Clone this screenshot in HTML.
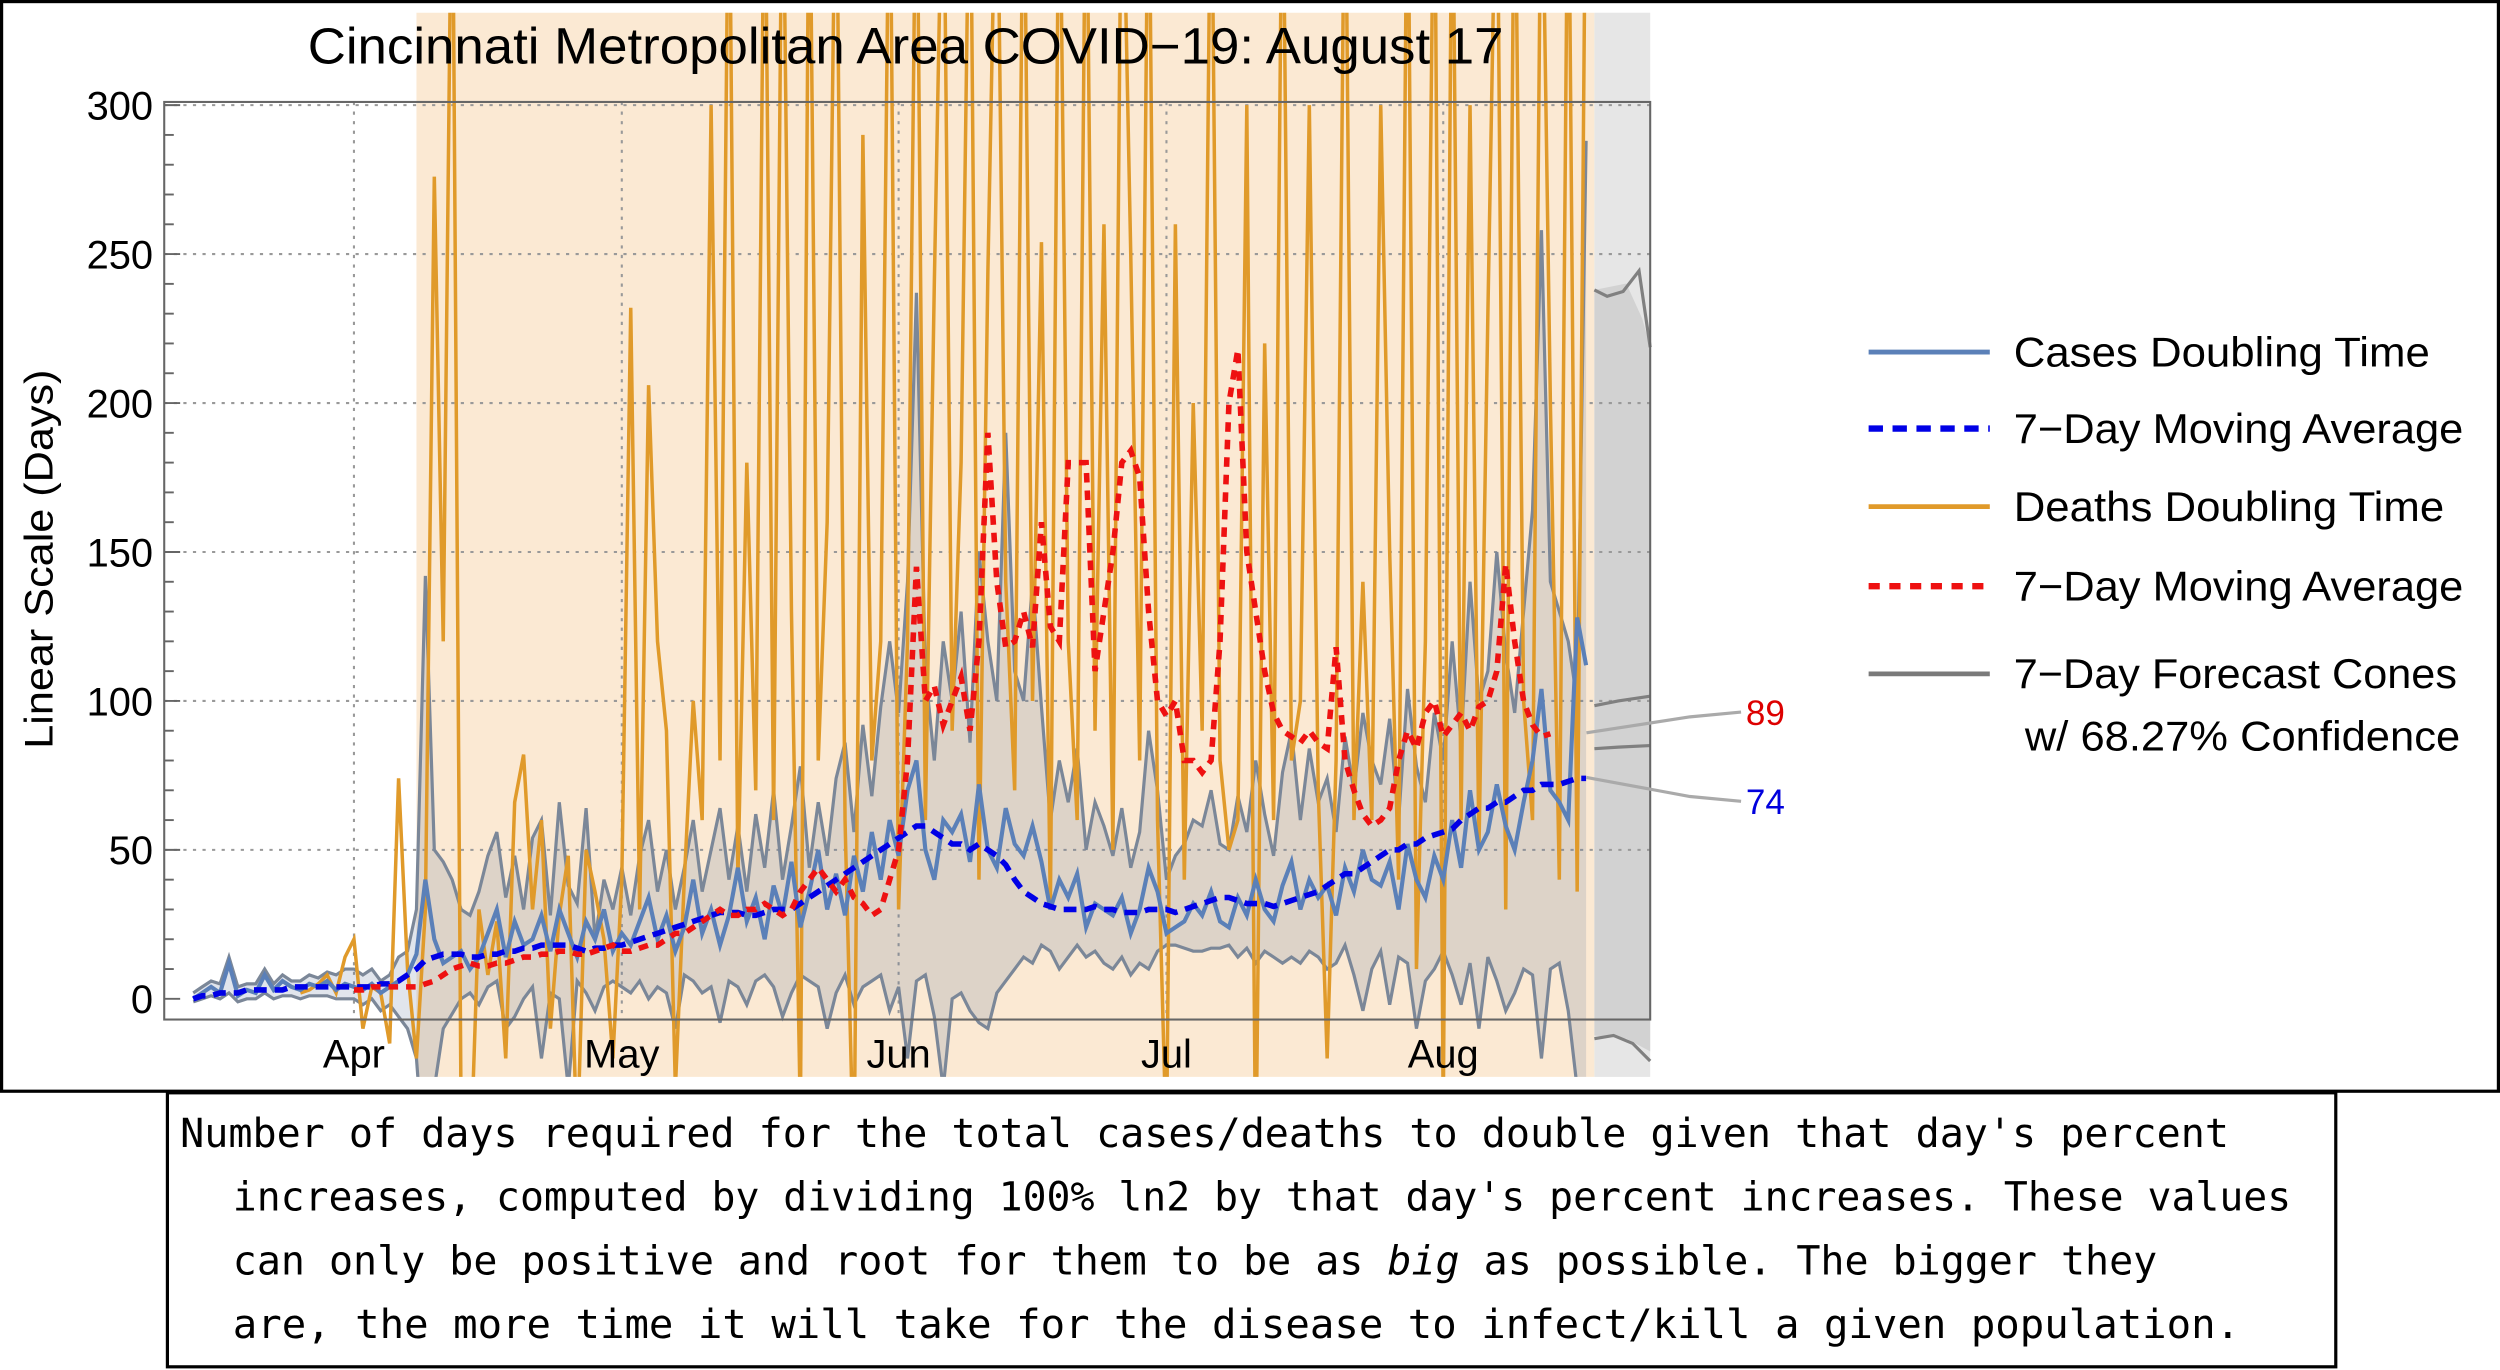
<!DOCTYPE html>
<html><head><meta charset="utf-8"><style>
html,body{margin:0;padding:0;background:#fff;}
svg{display:block;}
text{font-family:"Liberation Sans",sans-serif;}
.mono{font-family:"DejaVu Sans Mono","Liberation Mono",monospace;}
</style></head><body>
<svg id="chart" width="2500" height="1370" viewBox="0 0 1568 860" preserveAspectRatio="none" xmlns="http://www.w3.org/2000/svg">
<defs><clipPath id="plotclip"><rect x="103" y="8" width="897" height="668"/></clipPath></defs>
<rect x="1" y="1" width="1566" height="684" fill="#fff" stroke="#000" stroke-width="2"/>
<g id="bg"></g>
<rect x="1000" y="8" width="35" height="668" fill="#e6e6e6"/>
<polygon points="1000,182 1010,180 1020,178 1030,200 1035,218 1035,660 1020,652 1000,650" fill="#d2d2d2"/>
<g id="grid"></g>
<g id="series" clip-path="url(#plotclip)"></g>
<g fill="none" stroke="#808080" stroke-width="2">
<polyline points="1000,182 1008,186 1018,183 1028,170 1035,218"/>
<polyline points="1000,443 1015,440 1035,437"/>
<polyline points="1000,470 1015,469 1035,468"/>
<polyline points="1000,652 1012,650 1024,655 1035,666"/>
</g>
<g id="axes"></g>
<text x="193" y="40" font-size="32" textLength="750" lengthAdjust="spacingAndGlyphs">Cincinnati Metropolitan Area COVID−19: August 17</text>
<text transform="translate(33,351) rotate(-90)" font-size="25" text-anchor="middle" textLength="238" lengthAdjust="spacingAndGlyphs">Linear Scale (Days)</text>
<g fill="none" stroke="#aaa" stroke-width="2">
<polyline points="995,460 1060,450 1092,447"/>
<polyline points="995,488 1060,500 1092,503"/>
</g>
<text x="1095" y="455" font-size="22" fill="#d00">89</text>
<text x="1095" y="511" font-size="22" fill="#0000dd">74</text>
<g font-size="26">
<g><line x1="1172" y1="221" x2="1248" y2="221" stroke="#5b80b8" stroke-width="3"/><text x="1263" y="230" textLength="261" lengthAdjust="spacingAndGlyphs">Cases Doubling Time</text></g>
<g><line x1="1172" y1="269" x2="1248" y2="269" stroke="#0000e6" stroke-width="4" stroke-dasharray="9,6"/><text x="1263" y="278" textLength="282" lengthAdjust="spacingAndGlyphs">7−Day Moving Average</text></g>
<g><line x1="1172" y1="318" x2="1248" y2="318" stroke="#e09a2a" stroke-width="3"/><text x="1263" y="327" textLength="270" lengthAdjust="spacingAndGlyphs">Deaths Doubling Time</text></g>
<g><line x1="1172" y1="368" x2="1248" y2="368" stroke="#ee1111" stroke-width="4" stroke-dasharray="7,6"/><text x="1263" y="377" textLength="282" lengthAdjust="spacingAndGlyphs">7−Day Moving Average</text></g>
<g><line x1="1172" y1="423" x2="1248" y2="423" stroke="#7a7a7a" stroke-width="3"/><text x="1263" y="432" textLength="278" lengthAdjust="spacingAndGlyphs">7−Day Forecast Cones</text><text x="1270" y="471" textLength="273" lengthAdjust="spacingAndGlyphs">w/ 68.27% Confidence</text></g>
</g>
<rect x="105" y="686" width="1360" height="172" fill="#fff" stroke="#000" stroke-width="2"/>
<g class="mono" font-size="25">
<text class="mono" x="113" y="720" textLength="1285" lengthAdjust="spacingAndGlyphs">Number of days required for the total cases/deaths to double given that day's percent</text>
<text class="mono" x="146" y="760" textLength="1291" lengthAdjust="spacingAndGlyphs">increases, computed by dividing 100% ln2 by that day's percent increases. These values</text>
<text class="mono" x="146" y="800" textLength="1207" lengthAdjust="spacingAndGlyphs">can only be positive and root for them to be as <tspan font-style="italic">big</tspan> as possible. The bigger they</text>
<text class="mono" x="146" y="840" textLength="1259" lengthAdjust="spacingAndGlyphs">are, the more time it will take for the disease to infect/kill a given population.</text>
</g>
</svg>
<script>
// day index 0 = Mar 14; Apr 1 = 18 ... Aug 17 = 156
const cases=[0,2,4,2,12,1,3,2,8,3,6,4,3,5,4,6,3,5,
4,3,5,2,4,6,8,15,40,20,12,14,16,10,14,22,30,14,26,18,20,28,16,30,22,14,26,20,30,16,
22,18,26,34,20,28,16,24,40,22,30,18,28,44,26,34,20,38,28,46,24,36,50,30,42,28,48,36,56,40,60,
48,70,80,50,40,60,56,62,46,72,50,44,64,52,48,58,46,30,40,34,42,24,32,30,28,34,22,30,44,36,
22,24,26,32,28,36,26,24,34,28,40,30,26,38,46,30,40,34,38,28,44,36,50,40,38,46,30,52,40,34,48,
40,60,44,70,50,56,72,58,50,66,80,104,70,66,60,128,112];
const casesMA=[0,1,1,2,2,2,3,3,3,3,3,4,4,4,4,4,4,4,
4,4,4,5,5,6,8,10,13,14,15,15,15,14,14,15,15,16,16,17,17,18,18,18,18,17,16,17,17,18,
18,19,20,21,22,23,24,25,26,27,28,29,29,29,28,28,29,30,30,30,32,34,36,38,40,42,44,46,48,50,52,
54,56,58,58,56,54,52,52,50,52,50,48,45,40,36,34,32,31,30,30,30,30,31,30,30,29,29,29,30,30,
30,29,30,31,32,33,34,34,33,32,32,32,31,32,33,34,35,36,38,40,42,42,44,46,48,50,50,52,52,54,55,
56,57,60,62,64,64,66,66,68,70,70,72,72,72,73,74,74];
const coneHi=[2,4,6,5,14,4,5,5,10,5,8,6,6,8,7,9,8,10,
10,8,10,6,8,14,16,30,142,50,46,40,30,28,36,48,56,34,48,30,54,60,28,66,38,32,64,20,40,30,
44,28,48,60,36,50,30,44,60,36,50,64,40,58,36,62,44,70,40,58,78,44,66,48,74,86,56,92,68,98,120,
96,140,237,110,80,120,100,130,86,150,120,100,190,110,100,140,98,60,80,66,84,50,66,58,48,64,44,56,90,70,
40,48,52,60,58,70,52,50,68,56,80,62,48,76,90,60,84,66,74,56,88,70,96,80,72,94,60,104,78,66,96,
80,120,86,140,100,110,150,116,96,130,164,258,140,130,120,100,288];
const coneLo=[-1,0,1,0,2,-1,0,0,2,0,1,1,0,1,1,1,0,0,
0,-2,0,-4,-2,-6,-10,-20,-60,-30,-10,-5,0,2,-2,4,6,-10,-6,0,4,-20,2,0,-30,6,2,-4,4,6,
4,2,6,0,4,2,-10,8,6,2,4,-8,6,4,-2,6,8,4,-6,2,8,6,4,-10,2,8,-2,4,6,8,-4,
4,-20,6,8,-6,-30,0,2,-4,-8,-10,2,6,10,14,12,18,16,10,14,18,14,16,12,10,14,8,12,10,16,
18,18,17,16,16,17,17,18,14,17,12,16,14,12,14,12,16,14,10,12,18,8,-4,10,16,-2,14,12,-10,6,10,
16,8,-2,12,-10,14,6,-4,2,10,8,-20,10,12,-4,-30,-60];
const deaths=[null,null,null,null,null,null,null,null,null,null,null,null,2,3,5,8,2,14,
20,-10,4,2,-15,74,10,-20,30,276,120,400,-40,-60,30,8,26,-20,66,82,30,60,-10,28,48,-50,50,36,20,-20,
40,232,30,206,120,90,-30,40,100,60,300,80,400,40,180,70,400,60,400,130,-40,400,80,160,400,60,-60,290,80,120,400,
30,120,400,60,240,400,90,180,400,40,244,400,140,70,400,100,254,30,400,120,60,400,90,260,50,400,250,80,400,60,
-50,260,40,200,90,400,80,50,60,300,-60,220,60,400,80,100,300,70,-20,80,400,60,140,60,300,150,40,400,10,120,400,
-40,400,60,300,50,230,400,30,400,100,60,400,200,40,400,36,400];
const deathsMA=[null,null,null,null,null,null,null,null,null,null,null,null,null,null,null,null,null,null,
3,3,4,4,4,4,4,4,5,6,8,10,11,12,11,11,12,12,13,14,14,15,15,16,16,15,15,16,17,18,
16,16,17,18,18,20,22,22,24,26,28,30,28,28,30,30,32,30,28,30,36,40,44,40,36,40,34,32,28,30,40,
50,80,145,100,105,92,100,108,90,120,190,140,118,120,130,118,160,125,120,180,180,180,110,130,150,180,184,175,130,100,
95,100,80,80,76,80,120,200,218,150,130,110,96,90,88,86,90,86,84,118,80,70,62,58,60,64,80,90,84,96,100,
88,92,96,90,98,100,110,146,120,100,92,88,89];
const yTicks=[0,50,100,150,200,250,300];
const months=["Apr","May","Jun","Jul","Aug"];
const monthIdx=[18,48,79,109,140];

const NS="http://www.w3.org/2000/svg";
function X(i){return 222+(i-18)*5.6;}
function Y(v){return 627-v*1.87;}
function mk(tag,attrs,parent){const e=document.createElementNS(NS,tag);for(const k in attrs)e.setAttribute(k,attrs[k]);parent.appendChild(e);return e;}
function pts(arr){const o=[];arr.forEach((v,i)=>{if(v!==null)o.push(X(i).toFixed(1)+","+Y(v).toFixed(1));});return o.join(" ");}

const bg=document.getElementById('bg');
const of=mk('rect',{x:X(25),y:8,width:1000-X(25),height:668,fill:'#fbe9d3'},bg);



const grid=document.getElementById('grid');
yTicks.forEach(t=>{if(t===0)return;const l=mk('line',{x1:103,x2:1035,y1:Y(t),y2:Y(t),stroke:'#999','stroke-width':1.3,'stroke-dasharray':'2,4'},grid);

});
monthIdx.forEach(i=>{const l=mk('line',{x1:X(i),x2:X(i),y1:64,y2:640,stroke:'#999','stroke-width':1.3,'stroke-dasharray':'2,4'},grid);

});

const s=document.getElementById('series');
let poly=[];coneHi.forEach((v,i)=>poly.push(X(i)+","+Y(v)));
for(let i=coneLo.length-1;i>=0;i--)poly.push(X(i)+","+Y(coneLo[i]));
const cf=mk('polygon',{points:poly.join(" "),fill:'rgba(90,110,150,0.18)'},s);


const hi=mk('polyline',{points:pts(coneHi),fill:'none',stroke:'#7b8798','stroke-width':2},s);


const lo=mk('polyline',{points:pts(coneLo),fill:'none',stroke:'#7b8798','stroke-width':2},s);


const dl=mk('polyline',{points:pts(deaths),fill:'none',stroke:'#e09a2a','stroke-width':2.2},s);


const cl=mk('polyline',{points:pts(cases),fill:'none',stroke:'#5b80b8','stroke-width':2.6},s);


const cm=mk('polyline',{points:pts(casesMA),fill:'none',stroke:'#0000e6','stroke-width':3.5,'stroke-dasharray':'8,5'},s);


const dm=mk('polyline',{points:pts(deathsMA),fill:'none',stroke:'#ee1111','stroke-width':3.5,'stroke-dasharray':'6,5'},s);



const ax=document.getElementById('axes');
const fr=mk('rect',{x:103,y:64,width:932,height:576,fill:'none',stroke:'#666','stroke-width':1.3},ax);


for(let v=0;v<=300;v+=10){const l=mk('line',{x1:103,x2:v%50===0?113:109,y1:Y(v),y2:Y(v),stroke:'#666','stroke-width':1.2},ax);

}
yTicks.forEach(t=>{const tx=mk('text',{x:96,y:Y(t)+9,'font-size':25,'text-anchor':'end'},ax);tx.textContent=t;

});
months.forEach((m,k)=>{const tx=mk('text',{x:X(monthIdx[k]),y:670,'font-size':25,'text-anchor':'middle'},ax);tx.textContent=m;

});
</script>
</body></html>
